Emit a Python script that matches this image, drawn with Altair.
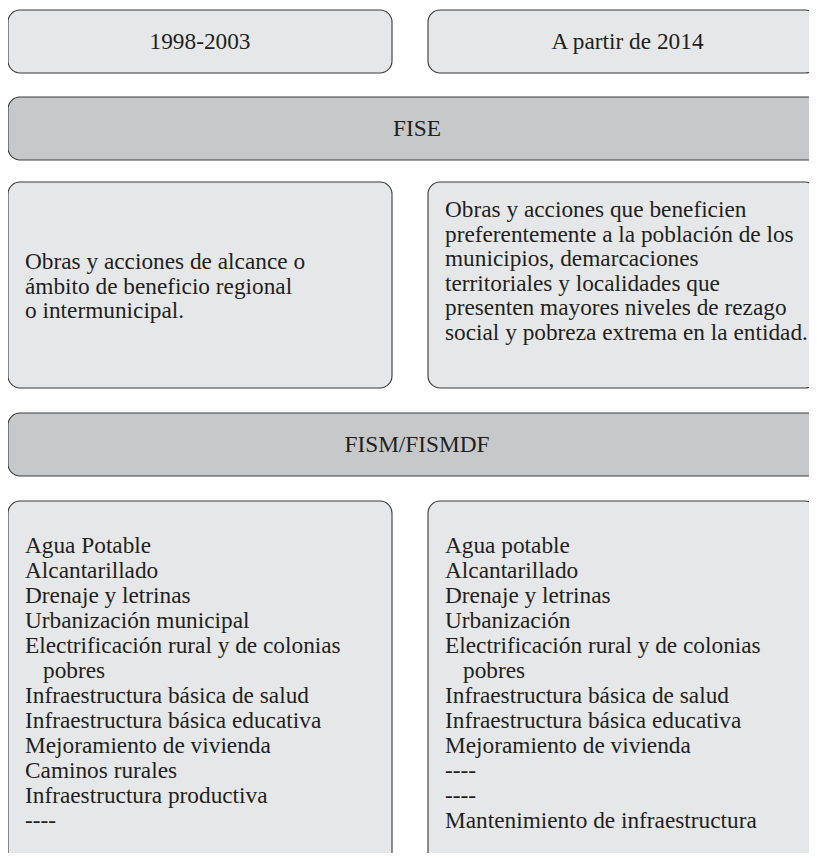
import altair as alt
import pandas as pd

# ---------------- content ----------------
periods = ["1998-2003", "A partir de 2014"]
funds = ["FISE", "FISM/FISMDF"]
fise_text = [
    ["Obras y acciones de alcance o",
     "ámbito de beneficio regional",
     "o intermunicipal."],
    ["Obras y acciones que beneficien",
     "preferentemente a la población de los",
     "municipios, demarcaciones",
     "territoriales y localidades que",
     "presenten mayores niveles de rezago",
     "social y pobreza extrema en la entidad."],
]
fism_items = [
    ["Agua Potable", "Alcantarillado", "Drenaje y letrinas",
     "Urbanización municipal", "Electrificación rural y de colonias\npobres",
     "Infraestructura básica de salud", "Infraestructura básica educativa",
     "Mejoramiento de vivienda", "Caminos rurales",
     "Infraestructura productiva", "----"],
    ["Agua potable", "Alcantarillado", "Drenaje y letrinas",
     "Urbanización", "Electrificación rural y de colonias\npobres",
     "Infraestructura básica de salud", "Infraestructura básica educativa",
     "Mejoramiento de vivienda", "----", "----",
     "Mantenimiento de infraestructura"],
]

# ---------------- layout (page pixel grid) ----------------
VIEW_X = (8, 809)
VIEW_Y = (8, 853)
COLS = [(8, 392), (428, 817)]
BAND = (8, 826)
ROW_PERIOD = (10, 73)
ROW_FISE = (97, 160)
ROW_DESC = (182, 388)
ROW_FISM = (413, 476)
ROW_LIST = (501, 864)
BAND_BASE = 39          # baseline offset inside header/band boxes
PAD_X = 17              # text inset inside column boxes
INDENT = 18             # continuation-line indent
LEAD_DESC = 24.5
LEAD_LIST = 25
DESC_FIRST = [87, 35]   # first baseline offset per column
LIST_FIRST = 52

LIGHT = "#e6e7e8"
DARK = "#c7c8ca"

boxes, ctext, ltext = [], [], []

for i, p in enumerate(periods):
    x0, x1 = COLS[i]
    boxes.append(dict(x=x0, x2=x1, y=ROW_PERIOD[0], y2=ROW_PERIOD[1], fill=LIGHT))
    ctext.append(dict(x=(x0 + x1) / 2 + (5 if i else 0), y=ROW_PERIOD[0] + BAND_BASE, text=p))

for f, row in zip(funds, [ROW_FISE, ROW_FISM]):
    boxes.append(dict(x=BAND[0], x2=BAND[1], y=row[0], y2=row[1], fill=DARK))
    ctext.append(dict(x=(BAND[0] + BAND[1]) / 2, y=row[0] + BAND_BASE, text=f))

for i, lines in enumerate(fise_text):
    x0, x1 = COLS[i]
    boxes.append(dict(x=x0, x2=x1, y=ROW_DESC[0], y2=ROW_DESC[1], fill=LIGHT))
    for k, ln in enumerate(lines):
        ltext.append(dict(x=x0 + PAD_X, y=ROW_DESC[0] + DESC_FIRST[i] + k * LEAD_DESC, text=ln))

for i, items in enumerate(fism_items):
    x0, x1 = COLS[i]
    boxes.append(dict(x=x0, x2=x1, y=ROW_LIST[0], y2=ROW_LIST[1], fill=LIGHT))
    k = 0
    for it in items:
        for j, part in enumerate(it.split("\n")):
            ltext.append(dict(x=x0 + PAD_X + (INDENT if j else 0),
                              y=ROW_LIST[0] + LIST_FIRST + k * LEAD_LIST, text=part))
            k += 1

df_boxes = pd.DataFrame(boxes)
df_c = pd.DataFrame(ctext)
df_l = pd.DataFrame(ltext)

xs = alt.Scale(domain=list(VIEW_X))
ys = alt.Scale(domain=[VIEW_Y[1], VIEW_Y[0]])

rects = alt.Chart(df_boxes).mark_rect(
    cornerRadius=12, stroke="#3a3a3a", strokeWidth=1.1, clip=True
).encode(
    x=alt.X("x:Q", scale=xs, axis=None),
    x2="x2:Q",
    y=alt.Y("y:Q", scale=ys, axis=None),
    y2="y2:Q",
    fill=alt.Fill("fill:N", scale=None),
)

font = dict(font="Liberation Serif", fontSize=23.3, color="#231f20", baseline="alphabetic")

ctxt = alt.Chart(df_c).mark_text(align="center", **font).encode(
    x=alt.X("x:Q", scale=xs, axis=None),
    y=alt.Y("y:Q", scale=ys, axis=None),
    text="text:N",
)
ltxt = alt.Chart(df_l).mark_text(align="left", **font).encode(
    x=alt.X("x:Q", scale=xs, axis=None),
    y=alt.Y("y:Q", scale=ys, axis=None),
    text="text:N",
)

chart = alt.layer(rects, ctxt, ltxt).properties(
    width=VIEW_X[1] - VIEW_X[0], height=VIEW_Y[1] - VIEW_Y[0], padding=0,
    background="white"
).configure_view(stroke=None)

chart.save("out.html", embed_options={"renderer": "svg", "actions": False})
